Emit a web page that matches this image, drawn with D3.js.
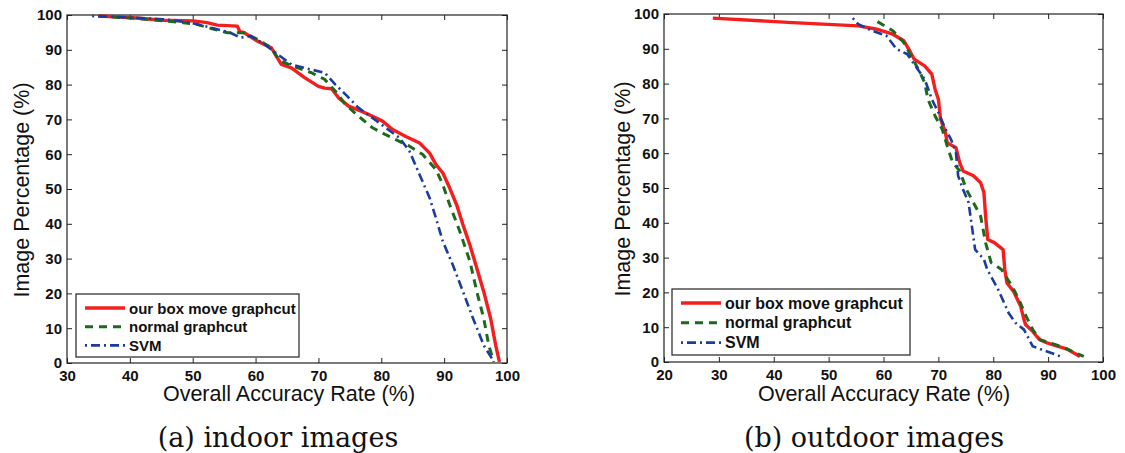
<!DOCTYPE html>
<html>
<head>
<meta charset="utf-8">
<script src="https://cdn.jsdelivr.net/npm/d3@7"></script>
<style>
  body { margin: 0; background: #fff; }
  svg { display: block; }
  .tick text { font-family: "Liberation Sans", Arial, sans-serif; font-weight: bold; font-size: 15px; fill: #111; }
  .axis path, .axis line { stroke: #222; }
</style>
</head>
<body>
<svg width="1125" height="453"></svg>
<script>
// series names and caption text
const seriesNames = ["our box move graphcut", "normal graphcut", "SVM"];
const captions = ["(a) indoor images", "(b) outdoor images"];
const xTitle = "Overall Accuracy Rate (%)";
const yTitle = "Image Percentage (%)";

// tick values
const indoorXTicks = [30, 40, 50, 60, 70, 80, 90, 100];
const outdoorXTicks = [20, 30, 40, 50, 60, 70, 80, 90, 100];
const yTicks = [0, 10, 20, 30, 40, 50, 60, 70, 80, 90, 100];

// indoor curves: [accuracy, image percentage]
const indoorOurs = [
  [35, 99.7], [40, 99.3], [45.3, 98.5], [50.1, 98.3], [52.3, 97.8], [53.9, 97.1], [57.1, 96.8],
  [57.5, 95.2], [58.2, 94.9], [60.3, 92.5], [62.5, 90.6], [63.3, 88.2], [64.1, 85.8], [65.7, 84.8],
  [67.8, 82], [70, 79.5], [71, 79], [72.1, 78.8], [73.2, 76.2], [74.8, 73.8], [76.9, 72.3],
  [78.6, 70.9], [80.2, 69.5], [81.8, 67.1], [83.9, 65.1], [86.1, 63.2], [87.7, 60.3], [88.7, 57],
  [89.8, 54.6], [90.9, 50.2], [92, 45.4], [93, 39.7], [94.1, 33.9], [95.2, 27.2], [96.3, 20.5],
  [97.4, 12.8], [98.2, 5.1], [98.8, 0.3]
];
const indoorNormal = [
  [35, 99.7], [41, 99], [45.3, 98.3], [48.5, 97.8], [50.7, 97.3], [52.8, 96.2], [55.5, 94.9],
  [58.2, 94.9], [60.3, 93], [62.5, 90.6], [63.5, 87.7], [64.6, 86.3], [66.7, 84.8], [68.9, 83.4],
  [71, 81.5], [72.7, 78.1], [74.3, 74.3], [76.4, 70.9], [78.6, 67.6], [80.7, 65.6], [82.3, 64.2],
  [84.5, 62.3], [86.6, 59.9], [88.7, 55.6], [89.8, 51.2], [90.9, 45.4], [92.5, 37.8], [94.1, 29.2],
  [95.2, 20.5], [96.3, 12.8], [97.1, 5.1], [97.9, 0.3]
];
const indoorSvm = [
  [34, 99.7], [40, 99.3], [45.3, 98.8], [49.6, 97.8], [52.8, 96.4], [56, 94.9], [57.6, 93.5],
  [59.2, 94], [61.4, 91.6], [63.5, 88.7], [65.7, 85.8], [68.9, 84.3], [71, 83.4], [72.7, 80],
  [74.3, 77.2], [76.4, 73.3], [78.6, 70.4], [80.7, 67.6], [82.9, 64.7], [84.5, 60.8], [86.1, 54.1],
  [87.7, 47.4], [88.7, 41.6], [89.8, 34.9], [91.4, 28.1], [93, 20.5], [94.6, 12.8], [96.3, 5.1],
  [97.6, 1.3], [97.9, 0.3]
];

// outdoor curves
const outdoorOurs = [
  [28.9, 98.8], [42.6, 97.6], [55.4, 96.6], [58.6, 95.7], [61.7, 94.2], [63.7, 92.3], [64.6, 89.9],
  [65.6, 87], [67.5, 85.1], [68.8, 82.7], [69.4, 78.4], [70, 75.5], [70.4, 69.8], [71.3, 65.9],
  [71.6, 63], [73.2, 61.6], [73.9, 57.2], [74.5, 54.9], [76.4, 53.5], [77.7, 51.5], [78.3, 48.7],
  [78.6, 42], [79, 35.2], [80.2, 34.3], [81.8, 32.3], [82.1, 26.6], [82.5, 22.7], [83.7, 20.3],
  [85, 16], [85.6, 12.2], [85.9, 10.7], [87.2, 8.8], [87.9, 7.4], [88.5, 6.4], [89.8, 5.5],
  [93.6, 3.6], [95.8, 1.6]
];
const outdoorNormal = [
  [58.9, 97.8], [61.7, 95.2], [63.7, 91.8], [65, 88], [66.5, 83.7], [67.5, 80.3], [68.1, 75.5],
  [69.4, 70.7], [70.7, 66.9], [71.6, 62.1], [72.6, 57.3], [73.9, 54.9], [75.1, 49.6], [76.4, 45.8],
  [77.7, 41.9], [78.6, 34.3], [79.6, 28.6], [81.5, 26.6], [83.4, 21.8], [84.7, 17.9], [86, 13.1],
  [87.2, 9.3], [88.5, 6.4], [92.3, 4.5], [96.5, 1.6]
];
const outdoorSvm = [
  [54.4, 98.8], [55.4, 97.1], [57.9, 95.2], [60.5, 93.8], [62.4, 89.9], [64.3, 88.5], [66.2, 84.2],
  [67.5, 81.3], [68.8, 75.5], [70, 71.7], [71.3, 66.9], [72.3, 64], [73.2, 60.2], [73.6, 53.5],
  [74.5, 49.6], [75.5, 45.8], [76.1, 39.1], [76.7, 32.3], [78.3, 29.5], [78.9, 26.6], [80.9, 20.8],
  [82.8, 14.1], [84.1, 11.2], [85.6, 9.3], [87.2, 4.5], [92.3, 1.6]
];

const styles = [
  { color: "#f41e1e", width: 3.4, dash: null },
  { color: "#1d6a1d", width: 3, dash: "8,6" },
  { color: "#1a3c9e", width: 2.6, dash: "2,4,9,4" }
];

const svg = d3.select("svg");

const panels = [
  { left: 67, right: 507, top: 15, bottom: 363, xDomain: [30, 100], xTicks: indoorXTicks,
    series: [indoorOurs, indoorNormal, indoorSvm],
    legend: { x: 76, y: 294, w: 223, h: 63, row: 18.7, font: 15 },
    yTitleX: 29, xTitleX: 289, captionX: 278, caption: captions[0] },
  { left: 664, right: 1103, top: 14, bottom: 362, xDomain: [20, 100], xTicks: outdoorXTicks,
    series: [outdoorOurs, outdoorNormal, outdoorSvm],
    legend: { x: 672, y: 289, w: 238, h: 66, row: 19.8, font: 16 },
    yTitleX: 630, xTitleX: 884, captionX: 874, caption: captions[1] }
];

panels.forEach(p => {
  const x = d3.scaleLinear().domain(p.xDomain).range([p.left, p.right]);
  const y = d3.scaleLinear().domain([0, 100]).range([p.bottom, p.top]);
  const g = svg.append("g");

  // frame
  g.append("rect")
    .attr("x", p.left).attr("y", p.top)
    .attr("width", p.right - p.left).attr("height", p.bottom - p.top)
    .attr("fill", "none").attr("stroke", "#333").attr("stroke-width", 1.3);

  // axes with inward ticks on all sides
  g.append("g").attr("class", "axis")
    .attr("transform", `translate(0,${p.bottom})`)
    .call(d3.axisBottom(x).tickValues(p.xTicks).tickSizeInner(-5).tickSizeOuter(0).tickPadding(7))
    .call(a => a.select(".domain").remove());
  g.append("g").attr("class", "axis")
    .attr("transform", `translate(0,${p.top})`)
    .call(d3.axisTop(x).tickValues(p.xTicks).tickSizeInner(-5).tickSizeOuter(0).tickFormat(""))
    .call(a => a.select(".domain").remove());
  g.append("g").attr("class", "axis")
    .attr("transform", `translate(${p.left},0)`)
    .call(d3.axisLeft(y).tickValues(yTicks).tickSizeInner(-5).tickSizeOuter(0).tickPadding(5))
    .call(a => a.select(".domain").remove());
  g.append("g").attr("class", "axis")
    .attr("transform", `translate(${p.right},0)`)
    .call(d3.axisRight(y).tickValues(yTicks).tickSizeInner(-5).tickSizeOuter(0).tickFormat(""))
    .call(a => a.select(".domain").remove());

  // curves
  const line = d3.line().x(d => x(d[0])).y(d => y(d[1]));
  p.series.forEach((s, i) => {
    g.append("path")
      .datum(s)
      .attr("d", line)
      .attr("fill", "none")
      .attr("stroke", styles[i].color)
      .attr("stroke-width", styles[i].width)
      .attr("stroke-dasharray", styles[i].dash)
      .attr("stroke-linejoin", "round");
  });

  // legend
  const L = p.legend;
  const lg = g.append("g");
  lg.append("rect")
    .attr("x", L.x).attr("y", L.y).attr("width", L.w).attr("height", L.h)
    .attr("fill", "#fff").attr("stroke", "#333").attr("stroke-width", 1.3);
  seriesNames.forEach((name, i) => {
    const cy = L.y + 14 + i * L.row;
    lg.append("line")
      .attr("x1", L.x + 9).attr("x2", L.x + 49)
      .attr("y1", cy).attr("y2", cy)
      .attr("stroke", styles[i].color)
      .attr("stroke-width", styles[i].width)
      .attr("stroke-dasharray", styles[i].dash);
    lg.append("text")
      .attr("x", L.x + 53).attr("y", cy + 5.5)
      .attr("font-family", "Liberation Sans, Arial, sans-serif")
      .attr("font-weight", "bold").attr("font-size", L.font).attr("fill", "#111")
      .text(name);
  });

  // axis titles
  g.append("text")
    .attr("x", p.xTitleX).attr("y", 401)
    .attr("text-anchor", "middle")
    .attr("font-family", "Liberation Sans, Arial, sans-serif").attr("font-size", 21.5).attr("fill", "#111")
    .text(xTitle);
  g.append("text")
    .attr("transform", `translate(${p.yTitleX},${(p.top + p.bottom) / 2 + 1}) rotate(-90)`)
    .attr("text-anchor", "middle")
    .attr("font-family", "Liberation Sans, Arial, sans-serif").attr("font-size", 21.5).attr("fill", "#111")
    .text(yTitle);

  // caption
  g.append("text")
    .attr("x", p.captionX).attr("y", 447)
    .attr("text-anchor", "middle")
    .attr("font-family", "DejaVu Serif, serif").attr("font-size", 27).attr("fill", "#111")
    .text(p.caption);
});
</script>
</body>
</html>
